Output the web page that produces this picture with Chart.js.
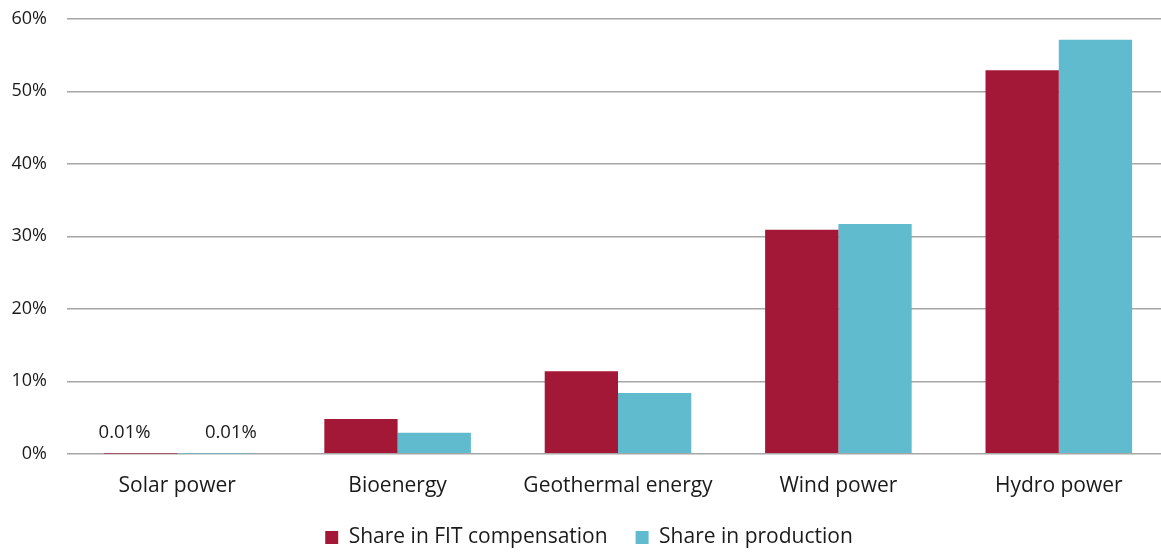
<!DOCTYPE html>
<html>
<head>
<meta charset="utf-8">
<script src="https://cdn.jsdelivr.net/npm/chart.js@4/dist/chart.umd.min.js"></script>
<style>
  html, body { margin: 0; padding: 0; background: #fff; overflow: hidden; }
  /* the original plot runs past the right edge and sits tight to the top */
  #graph { display: block; margin-top: -12px; }
</style>
</head>
<body>
<canvas id="graph" width="1169" height="570"></canvas>
<script>
const categories = ['Solar power', 'Bioenergy', 'Geothermal energy', 'Wind power', 'Hydro power'];
const fitShare = [0.01, 4.8, 11.4, 30.9, 52.9];
const productionShare = [0.01, 2.9, 8.4, 31.7, 57.1];
// only the solar bars carry value labels in the original
const fitLabels = ['0.01%', '', '', '', ''];
const productionLabels = ['0.01%', '', '', '', ''];
const yTicks = [0, 10, 20, 30, 40, 50, 60];

const FONT = "'Open Sans', 'Noto Sans', sans-serif";

const barLabels = {
  id: 'barLabels',
  afterDatasetsDraw(chart) {
    const ctx = chart.ctx;
    const lists = [fitLabels, productionLabels];
    const shift = [-16, 17];
    ctx.save();
    ctx.font = '18.5px ' + FONT;
    ctx.fillStyle = '#1a1a1a';
    ctx.textAlign = 'center';
    ctx.textBaseline = 'bottom';
    chart.data.datasets.forEach((ds, i) => {
      chart.getDatasetMeta(i).data.forEach((bar, j) => {
        const txt = lists[i][j];
        if (txt) ctx.fillText(txt, bar.x + shift[i], bar.y - 12);
      });
    });
    ctx.restore();
  }
};

new Chart(document.getElementById('graph'), {
  type: 'bar',
  data: {
    labels: categories,
    datasets: [
      { label: 'Share in FIT compensation', data: fitShare, backgroundColor: '#a31836', borderWidth: 0 },
      { label: 'Share in production', data: productionShare, backgroundColor: '#61bbcf', borderWidth: 0 }
    ]
  },
  options: {
    responsive: false,
    animation: false,
    devicePixelRatio: 1,
    layout: { padding: { left: 9, right: 0, top: 0, bottom: 0 } },
    datasets: { bar: { categoryPercentage: 0.665, barPercentage: 1.0 } },
    plugins: {
      legend: {
        position: 'bottom',
        labels: {
          font: { family: FONT, size: 21 },
          color: '#1a1a1a',
          boxWidth: 13,
          boxHeight: 13,
          padding: 28
        }
      },
      tooltip: { enabled: false }
    },
    scales: {
      x: {
        grid: { display: false, tickLength: 20 },
        border: { display: false },
        ticks: { font: { family: FONT, size: 21 }, color: '#1a1a1a', padding: 0 }
      },
      y: {
        min: 0,
        max: 60,
        afterBuildTicks: (axis) => { axis.ticks = yTicks.map(v => ({ value: v })); },
        afterFit: (axis) => { axis.width = 58; },
        grid: { color: '#a6a6a6', lineWidth: 1.5, drawTicks: false },
        border: { display: false },
        ticks: {
          font: { family: FONT, size: 18 },
          color: '#1a1a1a',
          padding: 20,
          callback: (v) => v + '%'
        }
      }
    }
  },
  plugins: [barLabels]
});
</script>
</body>
</html>
